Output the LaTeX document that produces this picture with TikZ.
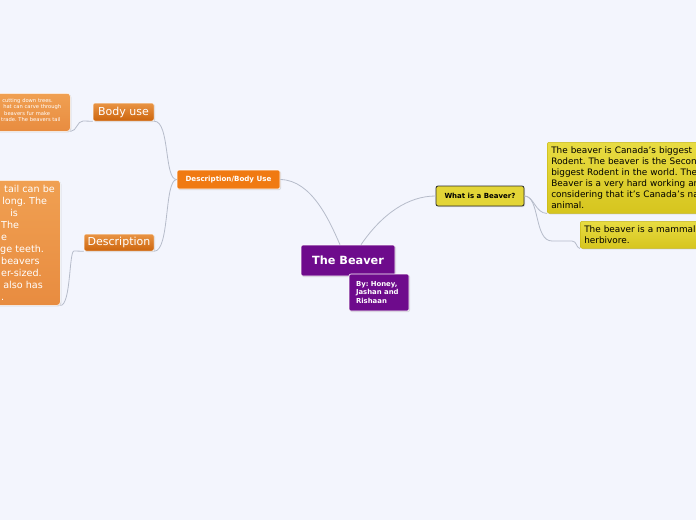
\documentclass[tikz,border=0pt]{standalone}
\usepackage{fontspec}
\setmainfont{DejaVu Sans}
\usetikzlibrary{shadows}
\definecolor{mapbg}{HTML}{F3F5FD}
\definecolor{mpurple}{HTML}{6E0B8C}
\definecolor{morange}{HTML}{F07A12}
\definecolor{otop}{HTML}{F0A052}
\definecolor{omid}{HTML}{CD650D}
\definecolor{obot}{HTML}{E88C40}
\definecolor{ytop}{HTML}{E8DC42}
\definecolor{ybot}{HTML}{D6C51E}
\definecolor{yedge}{HTML}{C9B917}
\definecolor{mline}{HTML}{B6BCCA}
\definecolor{mdark}{HTML}{2B2B2B}
\frenchspacing

\begin{document}
\begin{tikzpicture}[x=1pt, y=-1pt,
          shad/.style={drop shadow={shadow xshift=1pt, shadow yshift=-1pt, opacity=0.25}},
          root/.style={shad, fill=mpurple, draw=white, line width=0.6pt, rounded corners=2pt, text=white, font=\bfseries\fontsize{11.3}{13}\selectfont, minimum width=94pt, minimum height=31pt, inner sep=0pt},
          credit/.style={shad, fill=mpurple, draw=white, line width=0.6pt, rounded corners=2pt, text=white, font=\bfseries\fontsize{6.9}{8.5}\selectfont, minimum width=60pt, minimum height=37pt, text width=46pt, inner xsep=7pt, align=left},
          topic/.style={shad, fill=morange, draw=white, line width=0.6pt, rounded corners=2pt, text=white, font=\bfseries\fontsize{7.1}{8}\selectfont, minimum width=103pt, minimum height=19pt, inner sep=0pt},
          quiz/.style={shad, fill=ytop!70!ybot, draw=mdark, line width=0.8pt, rounded corners=2pt, text=black, font=\bfseries\fontsize{7}{8}\selectfont, minimum width=88pt, minimum height=20pt, inner sep=0pt},
          sub/.style={shad, top color=otop!80!omid, bottom color=omid, draw=white, line width=0.5pt, rounded corners=2pt, text=white, font=\fontsize{11}{13}\selectfont, inner sep=0pt},
          note/.style={shad, top color=otop, middle color=omid, bottom color=obot, draw=white, line width=0.5pt, rounded corners=3pt, text=white, align=left, inner ysep=0pt},
          fact/.style={shad, top color=ytop, bottom color=ybot, draw=yedge, line width=0.5pt, rounded corners=2pt, text=black, align=left, font=\fontsize{8.9}{11}\selectfont, inner xsep=4pt, inner ysep=0pt},
          link/.style={draw=mline, line width=0.8pt}]
  \clip (0,0) rectangle (696,520);
  \fill[mapbg] (0,0) rectangle (696,520);

  % central topic
  \node[root] (beaver) at (348,260.5) {The Beaver};
  \node[credit] (by) at (379,292.5) {By: Honey,\\Jashan and\\Rishaan};

  % left branch
  \node[topic] (descbody) at (228.5,179.5) {Description/Body Use};
  \node[sub, minimum width=61pt, minimum height=18pt] (bodyuse) at (123.5,112) {Body use};
  \node[sub, minimum width=70pt, minimum height=17pt] (description) at (119,242.5) {Description};
  \node[note, anchor=north west, font=\fontsize{5.2}{6.3}\selectfont, text width=64pt, inner xsep=6pt, minimum height=38pt] (usetext) at (-6,93)
    {\hspace*{2pt}cutting~down~trees.\\ \hspace*{3pt}hat~can~carve~through\\ \hspace*{4pt}beavers~fur~make\\ \hspace*{1pt}trade.~The~beavers~tail\\[-2pt]\mbox{}};
  \node[note, anchor=north west, font=\fontsize{9.6}{12}\selectfont, text width=54pt, inner xsep=6pt, minimum height=125pt] (desctext) at (-6,180)
    {\hspace*{4pt}tail~can~be\\ \hspace*{2pt}long.~The\\ \hspace*{10pt}is\\ \hspace*{1pt}The\\ \hspace*{1pt}e\\ ge~teeth.\\ \hspace*{1pt}beavers\\ \hspace*{1pt}er-sized.\\ \hspace*{3pt}also~has\\ \hspace*{1pt}.};

  % right branch
  \node[quiz] (what) at (480,196) {What is a Beaver?};
  \node[fact, anchor=north west, text width=180pt, minimum height=71pt] (fact1) at (547,142)
    {The beaver is Canada's biggest\\ Rodent. The beaver is the Second\\ biggest Rodent in the world. The\\ Beaver is a very hard working animal\\ considering that it's Canada's national\\ animal.};
  \node[fact, anchor=north west, text width=150pt, minimum height=27pt] (fact2) at (580,221)
    {The beaver is a mammal and a\\ herbivore.};

  % connectors
  \draw[link] ([xshift=-8pt]beaver.north) .. controls (330,222) and (312,180) .. (descbody.east);
  \draw[link] ([xshift=13pt]beaver.north) .. controls (382,214) and (408,196) .. (what.west);
  \draw[link] (descbody.west) .. controls (164,180) and (170,121) .. (bodyuse.south east);
  \draw[link] (descbody.west) .. controls (164,180) and (170,251) .. (description.south east);
  \draw[link] (bodyuse.south west) -- (83,121) .. controls (77,121) and (77,131) .. (usetext.south east);
  \draw[link] (description.south west) -- (74,251) .. controls (69,251) and (71,305) .. (desctext.south east);
  \draw[link] (what.east) .. controls (534,196) and (535,213) .. (fact1.south west);
  \draw[link] (what.east) .. controls (540,196) and (534,241) .. (552,241) -- (572,241) .. controls (577,241) and (576,248) .. (fact2.south west);
\end{tikzpicture}
\end{document}
